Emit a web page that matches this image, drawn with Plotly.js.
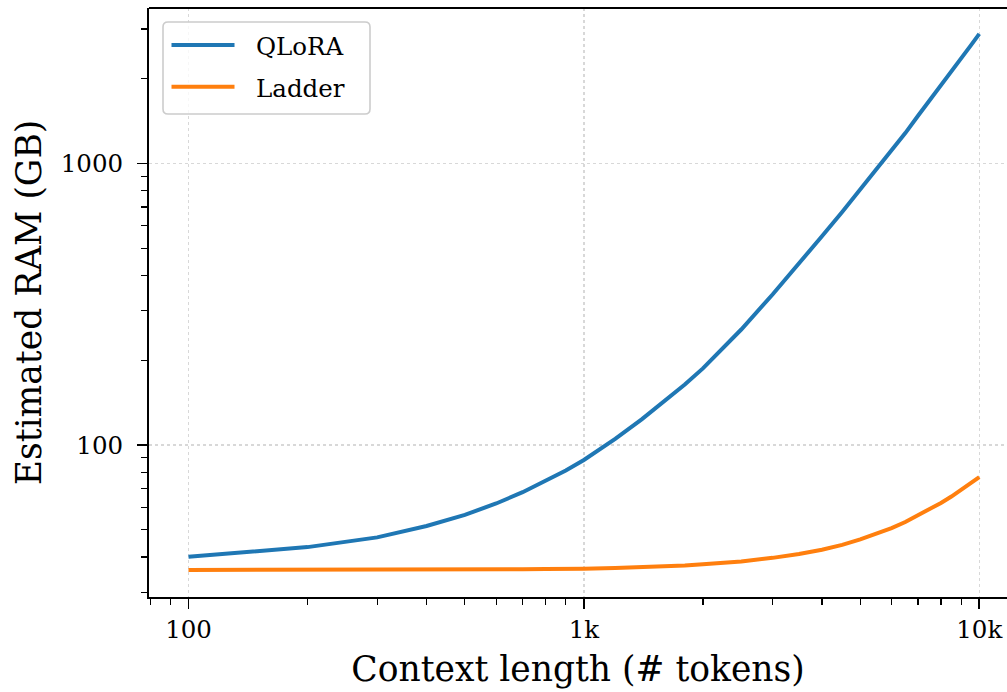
<!DOCTYPE html>
<html>
<head>
<meta charset="utf-8">
<script src="https://cdn.plot.ly/plotly-3.0.1.min.js"></script>
<style>html,body{margin:0;padding:0;background:#fff;overflow:hidden}#chart{width:1007px;height:692px}</style>
</head>
<body>
<div id="chart"></div>
<script>
// Context length (# tokens)
const contextLength = [100, 200, 300, 400, 500, 600, 700, 800, 900, 1000,
                       1200, 1400, 1600, 1800, 2000, 2500, 3000, 3500, 4000, 4500,
                       5000, 5500, 6000, 6500, 7000, 7500, 8000, 8500, 9000, 9500, 10000];
// Estimated RAM (GB)
const qloraRAM  = [40.1, 43.4, 47.0, 51.6, 56.5, 62.0, 68.0, 74.8, 81.2, 88.5,
                   105.2, 123.3, 142.8, 164, 187, 257, 342, 439, 551, 672,
                   808, 952, 1108, 1280, 1475, 1673, 1902, 2125, 2360, 2611, 2880];
const ladderRAM = [36.0, 36.0, 36.0, 36.1, 36.1, 36.1, 36.2, 36.3, 36.3, 36.4,
                   36.6, 36.8, 37.05, 37.35, 37.7, 38.6, 39.75, 41.0, 42.5, 44.2,
                   46.2, 48.3, 50.7, 53.3, 56.2, 59.1, 62.3, 65.6, 69.2, 73.0, 76.9];
const seriesNames = ['QLoRA', 'Ladder'];
const xTickVals = [100, 1000, 10000];
const xTickText = ['100', '1k', '10k'];
const yTickVals = [100, 1000];
const yTickText = ['100', '1000'];
const xMinorVals = [80, 90, 200, 300, 400, 500, 600, 700, 800, 900,
                    2000, 3000, 4000, 5000, 6000, 7000, 8000, 9000];
const yMinorVals = [30, 40, 50, 60, 70, 80, 90, 200, 300, 400, 500, 600, 700, 800, 900, 2000, 3000];

const colors = ['#1f77b4', '#ff7f0e'];
const FONT = 'DejaVu Serif';

const W = 1007, H = 692;
const M = {l: 149, r: 0, t: 8, b: 95};
const pw = W - M.l - M.r, ph = H - M.t - M.b;
const px = v => (v - M.l) / pw;          // pixel -> paper x
const py = v => (H - M.b - v) / ph;      // pixel -> paper y

const traces = [
  {x: contextLength, y: qloraRAM, name: seriesNames[0], type: 'scatter', mode: 'lines',
   line: {color: colors[0], width: 4}, showlegend: false},
  {x: contextLength, y: ladderRAM, name: seriesNames[1], type: 'scatter', mode: 'lines',
   line: {color: colors[1], width: 4}, showlegend: false}
];

// legend box (rounded rectangle) in paper coords
const bx0 = 163, bx1 = 370, by0 = 22, by1 = 114, r = 5;
const rx = r / pw, ry = r / ph;
const X0 = px(bx0), X1 = px(bx1), Y0 = py(by1), Y1 = py(by0);
const legendPath = `M${X0+rx},${Y0} L${X1-rx},${Y0} Q${X1},${Y0} ${X1},${Y0+ry} L${X1},${Y1-ry} Q${X1},${Y1} ${X1-rx},${Y1} L${X0+rx},${Y1} Q${X0},${Y1} ${X0},${Y1-ry} L${X0},${Y0+ry} Q${X0},${Y0} ${X0+rx},${Y0} Z`;

const legendRows = [45, 86.7];
const shapes = [
  {type: 'line', xref: 'paper', yref: 'paper', x0: 0, x1: 1, y0: 1, y1: 1,
   line: {color: '#000', width: 2}},
  {type: 'path', xref: 'paper', yref: 'paper', path: legendPath, layer: 'above',
   fillcolor: 'rgba(255,255,255,0.8)', line: {color: '#cccccc', width: 1.6}}
];
const annotations = [];
seriesNames.forEach((n, i) => {
  shapes.push({type: 'line', xref: 'paper', yref: 'paper', layer: 'above',
    x0: px(171.5), x1: px(234.5), y0: py(legendRows[i]), y1: py(legendRows[i]),
    line: {color: colors[i], width: 4}});
  annotations.push({xref: 'paper', yref: 'paper', x: px(254), y: py(legendRows[i] + 1.5),
    xanchor: 'left', yanchor: 'middle', showarrow: false, text: n,
    font: {family: FONT, size: 24.5, color: '#000'}});
});

const layout = {
  width: W, height: H,
  margin: M,
  paper_bgcolor: '#fff', plot_bgcolor: '#fff',
  font: {family: FONT, color: '#000'},
  showlegend: false,
  xaxis: {
    type: 'log', range: [1.9001, 4.0701],
    tickmode: 'array', tickvals: xTickVals, ticktext: xTickText,
    ticks: 'outside', ticklen: 10, tickwidth: 1.6, tickcolor: '#000',
    tickfont: {family: FONT, size: 24.5, color: '#000'},
    showline: true, linecolor: '#000', linewidth: 2, mirror: false,
    showgrid: true, gridcolor: '#d8d8d8', griddash: 'dot', gridwidth: 1.4,
    zeroline: false,
    minor: {tickmode: 'array', tickvals: xMinorVals, ticks: 'outside', ticklen: 6,
            tickwidth: 1.2, tickcolor: '#000', showgrid: false},
    title: {text: 'Context length (# tokens)', font: {family: FONT, size: 34.5, color: '#000'}, standoff: 13}
  },
  yaxis: {
    type: 'log', range: [1.4604, 3.5513],
    tickmode: 'array', tickvals: yTickVals, ticktext: yTickText,
    ticks: 'outside', ticklen: 10, tickwidth: 1.6, tickcolor: '#000',
    tickfont: {family: FONT, size: 24.5, color: '#000'},
    ticklabelstandoff: 9,
    showline: true, linecolor: '#000', linewidth: 2, mirror: false,
    showgrid: true, gridcolor: '#d8d8d8', griddash: 'dot', gridwidth: 1.4,
    zeroline: false,
    minor: {tickmode: 'array', tickvals: yMinorVals, ticks: 'outside', ticklen: 6,
            tickwidth: 1.2, tickcolor: '#000', showgrid: false},
    title: {text: 'Estimated RAM (GB)', font: {family: FONT, size: 34.5, color: '#000'}, standoff: 9}
  },
  shapes: shapes,
  annotations: annotations
};

Plotly.newPlot('chart', traces, layout, {displayModeBar: false, staticPlot: true});
</script>
</body>
</html>
